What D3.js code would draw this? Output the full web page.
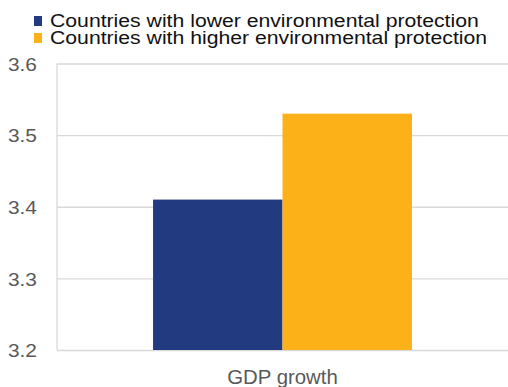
<!DOCTYPE html>
<html>
<head>
<meta charset="utf-8">
<script src="https://cdn.jsdelivr.net/npm/d3@7"></script>
<style>
  html, body { margin: 0; padding: 0; background: #fff; }
  svg { display: block; font-family: "Liberation Sans", Arial, sans-serif; }
</style>
</head>
<body>
<svg id="chart" width="508" height="387"></svg>
<script>
// Average GDP growth by level of environmental protection
const categories = ["GDP growth"];
const seriesNames = [
  "Countries with lower environmental protection",
  "Countries with higher environmental protection"
];
const seriesColors = ["#223a80", "#fbb117"];
const lowerProtection = [3.41];
const higherProtection = [3.53];
const yTicks = [3.2, 3.3, 3.4, 3.5, 3.6];

const seriesValues = [lowerProtection, higherProtection];

const svg = d3.select("#chart");
const margin = { top: 63.5, right: 0, bottom: 37, left: 57 };
const width = 508 - margin.left - margin.right;
const height = 387 - margin.top - margin.bottom;

const g = svg.append("g").attr("transform", `translate(${margin.left},${margin.top})`);

const x0 = d3.scaleBand().domain(categories).range([0, width]).paddingInner(0).paddingOuter(0.371);
const x1 = d3.scaleBand().domain(d3.range(seriesNames.length)).range([0, x0.bandwidth()]).padding(0);
const y = d3.scaleLinear().domain([3.2, 3.6]).range([height, 0]);

// horizontal gridlines with tick labels
const yAxis = d3.axisLeft(y).tickValues(yTicks).tickSize(-width).tickFormat(d3.format(".1f"));
const yg = g.append("g").call(yAxis);
yg.select(".domain").remove();
yg.selectAll(".tick line").attr("stroke", "#d9d9d9").attr("stroke-width", 1.3);
yg.selectAll(".tick text")
  .attr("fill", "#595959").attr("font-size", "20.9px")
  .attr("x", 0).attr("dy", 0)
  .attr("transform", "translate(-20,6.7) scale(1,0.9)");

// left border of the plot area
g.append("line").attr("x1", 0).attr("x2", 0).attr("y1", 0).attr("y2", height)
  .attr("stroke", "#d9d9d9").attr("stroke-width", 1.3);

// bars
categories.forEach((cat, ci) => {
  seriesValues.forEach((vals, si) => {
    g.append("rect")
      .attr("x", x0(cat) + x1(si))
      .attr("y", y(vals[ci]))
      .attr("width", x1.bandwidth())
      .attr("height", y(3.2) - y(vals[ci]))
      .attr("fill", seriesColors[si]);
  });
});

// category labels
const xAxis = d3.axisBottom(x0).tickSize(0);
const xg = g.append("g").attr("transform", `translate(0,${height})`).call(xAxis);
xg.select(".domain").remove();
xg.selectAll(".tick text")
  .attr("fill", "#595959").attr("font-size", "20.4px")
  .attr("y", 0).attr("dy", 0)
  .attr("transform", "translate(0,34) scale(1,0.95)");

// legend
const legend = svg.append("g").attr("transform", "translate(34,0)");
seriesNames.forEach((name, i) => {
  const row = legend.append("g").attr("transform", `translate(0,${27 + i * 17})`);
  row.append("rect").attr("x", 0).attr("y", -11).attr("width", 8).attr("height", 10).attr("fill", seriesColors[i]);
  row.append("text").attr("x", 0).attr("y", 0)
    .attr("transform", "translate(16,0) scale(1,0.86)")
    .attr("font-size", "21.2px").attr("fill", "#111").text(name);
});
</script>
</body>
</html>
